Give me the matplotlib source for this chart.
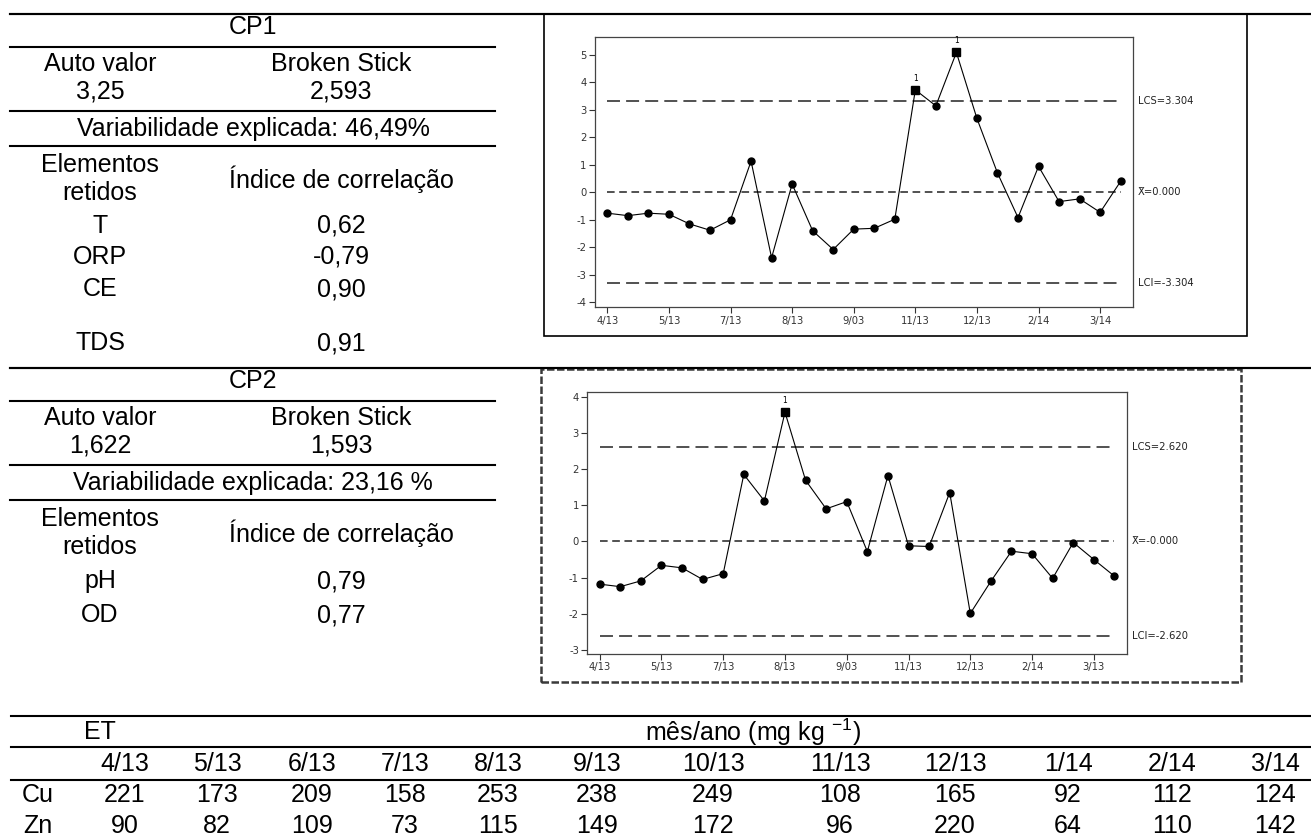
import matplotlib.pyplot as plt
import matplotlib.transforms as mtransforms
from matplotlib.lines import Line2D
from matplotlib.patches import Rectangle
import numpy as np

plt.rcParams['font.family'] = ['Liberation Sans', 'DejaVu Sans']
plt.rcParams['mathtext.fontset'] = 'custom'
plt.rcParams['mathtext.rm'] = 'Liberation Sans'
plt.rcParams['mathtext.default'] = 'regular'

# PCA summary tables
cp1_eigen, cp1_broken = '3,25', '2,593'
cp1_var = 'Variabilidade explicada: 46,49%'
cp1_elements = ['T', 'ORP', 'CE', 'TDS']
cp1_corr = ['0,62', '-0,79', '0,90', '0,91']

cp2_eigen, cp2_broken = '1,622', '1,593'
cp2_var = 'Variabilidade explicada: 23,16 %'
cp2_elements = ['pH', 'OD']
cp2_corr = ['0,79', '0,77']

# control chart scores
cp1_ticks = ['4/13', '5/13', '7/13', '8/13', '9/03', '11/13', '12/13', '2/14', '3/14']
cp1_scores = [-0.76, -0.85, -0.76, -0.80, -1.15, -1.38, -1.00, 1.13, -2.38, 0.30,
              -1.40, -2.08, -1.34, -1.31, -0.98, 3.72, 3.14, 5.08, 2.68, 0.70,
              -0.92, 0.94, -0.34, -0.24, -0.73, 0.40]
cp1_flags = [15, 17]
cp1_lcs, cp1_center_label = 3.304, 'X\u0304=0.000'

cp2_ticks = ['4/13', '5/13', '7/13', '8/13', '9/03', '11/13', '12/13', '2/14', '3/13']
cp2_scores = [-1.18, -1.25, -1.09, -0.66, -0.73, -1.05, -0.89, 1.85, 1.12, 3.57,
              1.69, 0.90, 1.10, -0.28, 1.82, -0.12, -0.14, 1.35, -1.99, -1.10,
              -0.27, -0.34, -1.02, -0.03, -0.50, -0.96]
cp2_flags = [9]
cp2_lcs, cp2_center_label = 2.620, 'X\u0304=-0.000'

# trace elements per month
et_months = ['4/13', '5/13', '6/13', '7/13', '8/13', '9/13', '10/13', '11/13',
             '12/13', '1/14', '2/14', '3/14']
et_cu = [221, 173, 209, 158, 253, 238, 249, 108, 165, 92, 112, 124]
et_zn = [90, 82, 109, 73, 115, 149, 172, 96, 220, 64, 110, 142]

W, H = 1311, 835
fig = plt.figure(figsize=(W / 100, H / 100), dpi=100)


def fx(x):
    return x / W


def fy(y):
    return 1 - y / H


def hline(y, x0, x1, lw=1.5):
    fig.add_artist(Line2D([fx(x0), fx(x1)], [fy(y), fy(y)], color='black', lw=lw))


def txt(x, y, s, size=18):
    fig.text(fx(x), fy(y), s, ha='center', va='center', fontsize=size)


def pca_table(dy, eigen, broken, var, elements, corr, rows_y, title):
    hline(14 + dy, 10, W)
    txt(253, 27 + dy, title)
    hline(47 + dy, 10, 495)
    txt(100, 64 + dy, 'Auto valor')
    txt(341, 64 + dy, 'Broken Stick')
    txt(100, 92 + dy, eigen)
    txt(341, 92 + dy, broken)
    hline(111 + dy, 10, 495)
    txt(253, 129 + dy, var)
    hline(146 + dy, 10, 495)
    txt(100, 165 + dy, 'Elementos')
    txt(100, 193 + dy, 'retidos')
    txt(341, 179 + dy, 'Índice de correlação')
    for el, c, ry in zip(elements, corr, rows_y):
        txt(100, ry + dy, el)
        txt(341, ry + dy, c)


pca_table(0, cp1_eigen, cp1_broken, cp1_var, cp1_elements, cp1_corr,
          [226, 257, 289, 343], 'CP1')
pca_table(354, cp2_eigen, cp2_broken, cp2_var, cp2_elements, cp2_corr,
          [227, 261], 'CP2')

tick_font = dict(family='DejaVu Sans', stretch='condensed', size=8)


def control_chart(l, t, r, b, scores, flags, lcs, center_label, ticks, yticks, ylim):
    ax = fig.add_axes([fx(l), fy(b), fx(r) - fx(l), fy(t) - fy(b)])
    scores = np.asarray(scores)
    n = len(scores)
    idx = np.arange(n)
    normal = [i for i in idx if i not in flags]
    ax.plot(idx, scores, color='black', lw=0.8, zorder=3)
    ax.plot(idx[normal], scores[normal], 'o', color='black', ms=5, zorder=4)
    ax.plot(idx[flags], scores[flags], 's', color='black', ms=5.5, zorder=4)
    for f in flags:
        ax.annotate('1', (f, scores[f]), xytext=(0, 5), textcoords='offset points',
                    ha='center', va='bottom', fontsize=5.5, family='DejaVu Sans')

    # control limits and centre line
    ax.plot([0, n - 1], [lcs, lcs], color='#222222', lw=1.1, dashes=(8.5, 4))
    ax.plot([0, n - 1], [-lcs, -lcs], color='#222222', lw=1.1, dashes=(8.5, 4))
    ax.plot([0, n - 1], [0, 0], color='#222222', lw=1.1, dashes=(5, 3))

    trans = mtransforms.blended_transform_factory(ax.transAxes, ax.transData)
    off = mtransforms.offset_copy(trans, fig=fig, x=5, y=0, units='dots')
    for y, s in [(lcs, f'LCS={lcs:.3f}'), (0, center_label), (-lcs, f'LCI={-lcs:.3f}')]:
        ax.text(1, y, s, transform=off, va='center', ha='left',
                fontdict=tick_font, color='#222222')

    ax.set_xlim(-0.6, n - 0.4)
    ax.set_ylim(*ylim)
    ax.set_xticks(idx[::3])
    ax.set_xticklabels(ticks, fontdict=tick_font, color='#222222')
    ax.set_yticks(yticks)
    ax.set_yticklabels([str(v) for v in yticks], fontdict=tick_font, color='#222222')
    ax.tick_params(direction='out', length=4, width=0.8, pad=2, colors='#333333')
    for s in ax.spines.values():
        s.set_color('#444444')
        s.set_linewidth(0.9)
    return ax


control_chart(595, 37.3, 1133, 307.3, cp1_scores, cp1_flags, cp1_lcs, cp1_center_label,
              cp1_ticks, list(range(-4, 6)), (-4.18, 5.63))
control_chart(587.3, 392.3, 1126.8, 654, cp2_scores, cp2_flags, cp2_lcs, cp2_center_label,
              cp2_ticks, list(range(-3, 5)), (-3.11, 4.12))

# frames around the control charts
fig.add_artist(Rectangle((fx(544), fy(335.7)), fx(1247) - fx(544), fy(14) - fy(335.7),
                         fill=False, edgecolor='black', lw=1.2))
fig.add_artist(Rectangle((fx(541), fy(682)), fx(1241) - fx(541), fy(369) - fy(682),
                         fill=False, edgecolor='#3a3a3a', lw=1.8, linestyle=(0, (3, 1))))
# redraw the section rules on top of the frames
hline(14, 10, W)
hline(367.6, 10, W)

# trace element table
col_x = [125, 217, 312, 405, 498, 597, 713, 840, 955, 1068, 1172, 1275]
hline(716, 11, W)
txt(100, 732, 'ET')
txt(753, 732, 'mês/ano (mg kg $^{-1}$)')
hline(747, 11, W)
for x, m in zip(col_x, et_months):
    txt(x, 764, m)
hline(780, 11, W)
txt(38, 795, 'Cu')
txt(38, 826, 'Zn')
for x, cu, zn in zip(col_x, et_cu, et_zn):
    txt(x, 795, str(cu))
    txt(x, 826, str(zn))

fig.savefig('out.png', dpi=100)
